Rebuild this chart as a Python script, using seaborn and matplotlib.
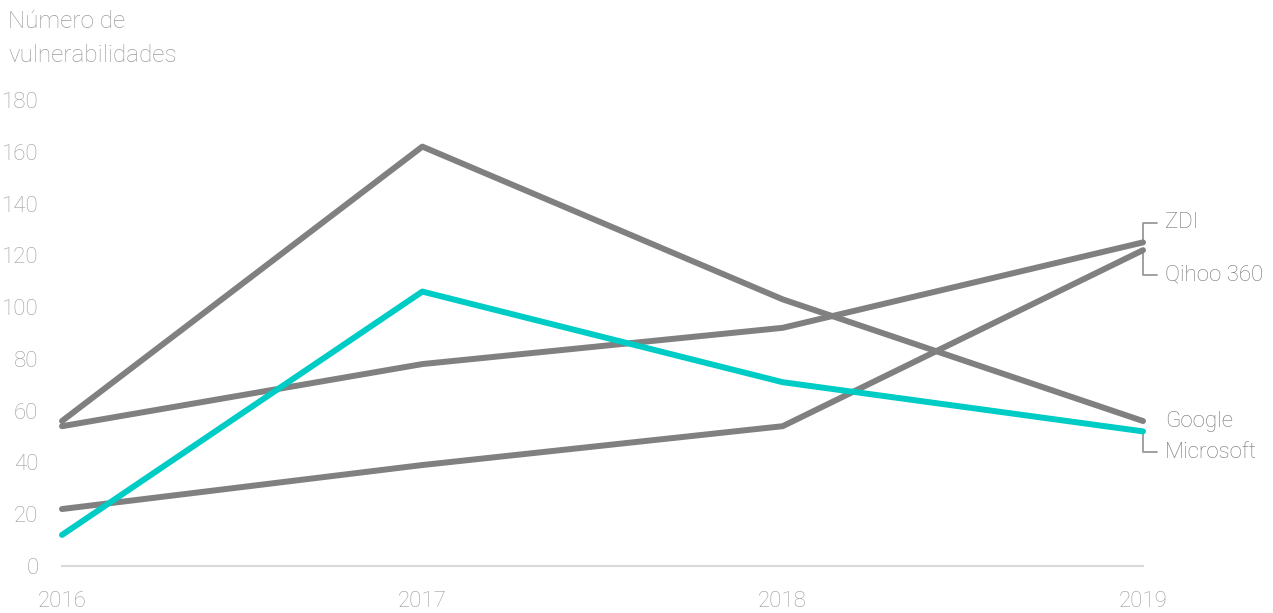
import matplotlib
matplotlib.use("Agg")
import matplotlib.pyplot as plt
import seaborn as sns
import pandas as pd
import numpy as np

years = [2016, 2017, 2018, 2019]
google = [56, 162, 103, 56]
zdi = [54, 78, 92, 125]
qihoo = [22, 39, 54, 122]
microsoft = [12, 106, 71, 52]
series_names = ["Google", "ZDI", "Qihoo 360", "Microsoft"]
y_ticks = [0, 20, 40, 60, 80, 100, 120, 140, 160, 180]
y_title = "Número de\nvulnerabilidades"

GRAY = "#808080"
TEAL = "#00ccc6"
TXT = "#9c9c9c"
LBL = "#747474"

sns.set_theme(style="white")
plt.rcParams["font.family"] = ["Roboto", "DejaVu Sans"]

df = pd.DataFrame({
    "year": years * 4,
    "value": google + zdi + qihoo + microsoft,
    "series": sum([[n] * 4 for n in series_names], []),
})

fig = plt.figure(figsize=(12.73, 6.13), dpi=100)
ax = fig.add_axes([62 / 1273, 47 / 613, (1143 - 62) / 1273, (566 - 100) / 613])
palette = {"Google": GRAY, "ZDI": GRAY, "Qihoo 360": GRAY, "Microsoft": TEAL}
sns.lineplot(data=df, x="year", y="value", hue="series", palette=palette,
             hue_order=series_names, linewidth=4.3, ax=ax, legend=False)
for l in ax.lines:
    l.set_solid_capstyle("round")
    l.set_clip_on(False)

ax.set_xlim(2016, 2019)
ax.set_ylim(0, 180)
ax.set_xticks(years)
ax.set_xticklabels([str(y) for y in years])
ax.set_yticks(y_ticks)
ax.set_xlabel("")
ax.set_ylabel("")
for s in ["top", "right", "left"]:
    ax.spines[s].set_visible(False)
ax.spines["bottom"].set_color("#d9d9d9")
ax.spines["bottom"].set_linewidth(1.5)
ax.tick_params(axis="y", length=0, pad=17, labelsize=16, labelcolor=TXT)
ax.tick_params(axis="x", direction="in", length=7, width=1.5, color="#d9d9d9",
               pad=18, labelsize=16, labelcolor=TXT)
for t in ax.get_yticklabels() + ax.get_xticklabels():
    t.set_fontweight("light")

fig.text(8 / 1273, 1 - 10 / 613, y_title, ha="left", va="top", fontsize=17.5,
         color=TXT, fontweight="light", linespacing=1.6)

# end labels with connectors
ends = {"ZDI": (zdi[-1], 7.5), "Qihoo 360": (qihoo[-1], -9.5),
        "Google": (google[-1], 0), "Microsoft": (microsoft[-1], -8)}
dx = 0.04
for name, (v, off) in ends.items():
    ly = v + off
    if off != 0:
        ax.plot([years[-1], years[-1], years[-1] + dx], [v, ly, ly],
                color="#999999", linewidth=1.3, clip_on=False, zorder=1)
    ax.text(years[-1] + 0.062, ly, name, ha="left", va="center",
            fontsize=16, color=LBL, fontweight="light")

fig.savefig("out.png", dpi=100)
